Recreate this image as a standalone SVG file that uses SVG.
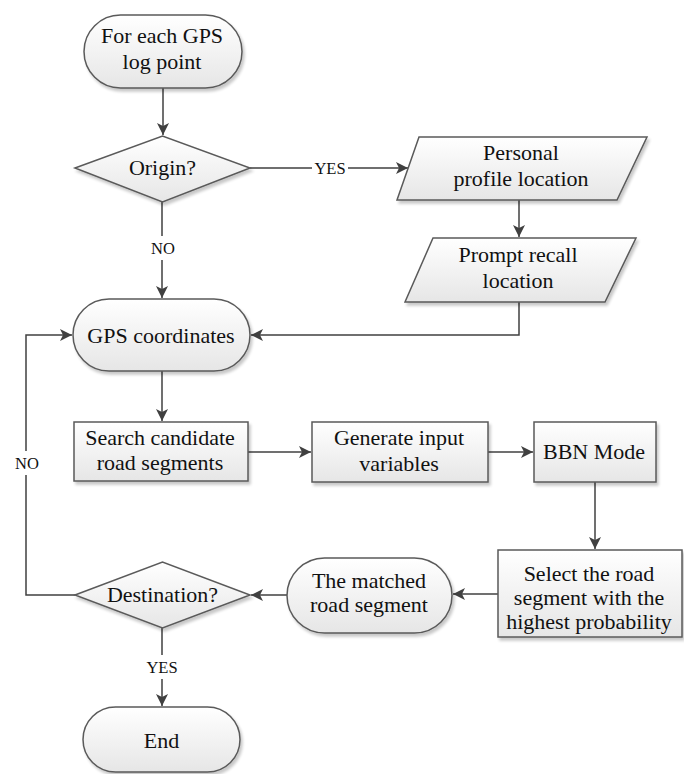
<svg xmlns="http://www.w3.org/2000/svg" width="684" height="774" viewBox="0 0 684 774">
<defs>
<linearGradient id="g" x1="0" y1="0" x2="0" y2="1">
<stop offset="0" stop-color="#ffffff"/>
<stop offset="1" stop-color="#e6e6e6"/>
</linearGradient>
<filter id="sh" x="-10%" y="-10%" width="125%" height="130%">
<feGaussianBlur in="SourceAlpha" stdDeviation="1.5"/>
<feOffset dx="2" dy="3" result="b"/>
<feComponentTransfer><feFuncA type="linear" slope="0.22"/></feComponentTransfer>
<feMerge><feMergeNode/><feMergeNode in="SourceGraphic"/></feMerge>
</filter>
<marker id="ah" markerWidth="12" markerHeight="12" refX="12" refY="6" orient="auto" markerUnits="userSpaceOnUse">
<path d="M0,0 L12,6 L0,12 L3,6 Z" fill="#404040"/>
</marker>
</defs>
<style>
.s{fill:url(#g);stroke:#5a5a5a;stroke-width:1.5;filter:url(#sh)}
.nt{font-family:"Liberation Serif",serif;font-size:22px;fill:#111;text-anchor:middle}
.lb{font-family:"Liberation Serif",serif;font-size:16.5px;fill:#111;text-anchor:middle}
.c{fill:none;stroke:#404040;stroke-width:1.5}
.a{marker-end:url(#ah)}
</style>
<g id="connectors">
<path class="c a" d="M163,88 V135"/>
<path class="c a" d="M250,168 H312 M348,168 H408"/>
<path class="c a" d="M162,202 V236 M162,260 V298"/>
<path class="c a" d="M519,200 V237"/>
<path class="c a" d="M519,302 V335 H251"/>
<path class="c a" d="M162,371 V421"/>
<path class="c a" d="M248,452 H311"/>
<path class="c a" d="M488,452 H533"/>
<path class="c a" d="M595,482 V549"/>
<path class="c a" d="M498,594 H453"/>
<path class="c a" d="M287,595 H251"/>
<path class="c a" d="M75,595 H26 V475 M26,451 V335 H72"/>
<path class="c a" d="M162,628 V655 M162,679 V706"/>
<text class="lb" x="330" y="174">YES</text>
<text class="lb" x="163" y="254">NO</text>
<text class="lb" x="27" y="469">NO</text>
<text class="lb" x="162" y="673">YES</text>
</g>
<g id="start">
<rect class="s" x="84" y="15" width="158" height="73" rx="36.5"/>
<text class="nt" x="162" y="43">For each GPS</text>
<text class="nt" x="162" y="69">log point</text>
</g>
<g id="origin">
<polygon class="s" points="75,168 162.5,136 250,168 162.5,202"/>
<text class="nt" x="162.5" y="175">Origin?</text>
</g>
<g id="profile">
<polygon class="s" points="419,137 647,137 617,200 397,200"/>
<text class="nt" x="521" y="160">Personal</text>
<text class="nt" x="521" y="186">profile location</text>
</g>
<g id="prompt">
<polygon class="s" points="433,238 636,238 605,302 405,302"/>
<text class="nt" x="518" y="262">Prompt recall</text>
<text class="nt" x="518" y="288">location</text>
</g>
<g id="gps">
<rect class="s" x="73" y="299" width="177" height="72" rx="36"/>
<text class="nt" x="161" y="343">GPS coordinates</text>
</g>
<g id="search">
<rect class="s" x="74" y="422" width="174" height="59"/>
<text class="nt" x="160" y="445">Search candidate</text>
<text class="nt" x="160" y="470">road segments</text>
</g>
<g id="generate">
<rect class="s" x="312" y="422" width="176" height="60"/>
<text class="nt" x="399" y="445">Generate input</text>
<text class="nt" x="399" y="471">variables</text>
</g>
<g id="bbn">
<rect class="s" x="534" y="422" width="122" height="60"/>
<text class="nt" x="594" y="459">BBN Mode</text>
</g>
<g id="select">
<rect class="s" x="498" y="550" width="184" height="87"/>
<text class="nt" x="589" y="581">Select the road</text>
<text class="nt" x="589" y="605">segment with the</text>
<text class="nt" x="589" y="629">highest probability</text>
</g>
<g id="matched">
<rect class="s" x="287" y="558" width="165" height="75" rx="37.5"/>
<text class="nt" x="369" y="588">The matched</text>
<text class="nt" x="369" y="612">road segment</text>
</g>
<g id="destination">
<polygon class="s" points="75,595 162.5,562 250,595 162.5,628"/>
<text class="nt" x="162.5" y="602">Destination?</text>
</g>
<g id="end">
<rect class="s" x="83" y="707" width="157" height="65" rx="32.5"/>
<text class="nt" x="161.5" y="748">End</text>
</g>
</svg>
